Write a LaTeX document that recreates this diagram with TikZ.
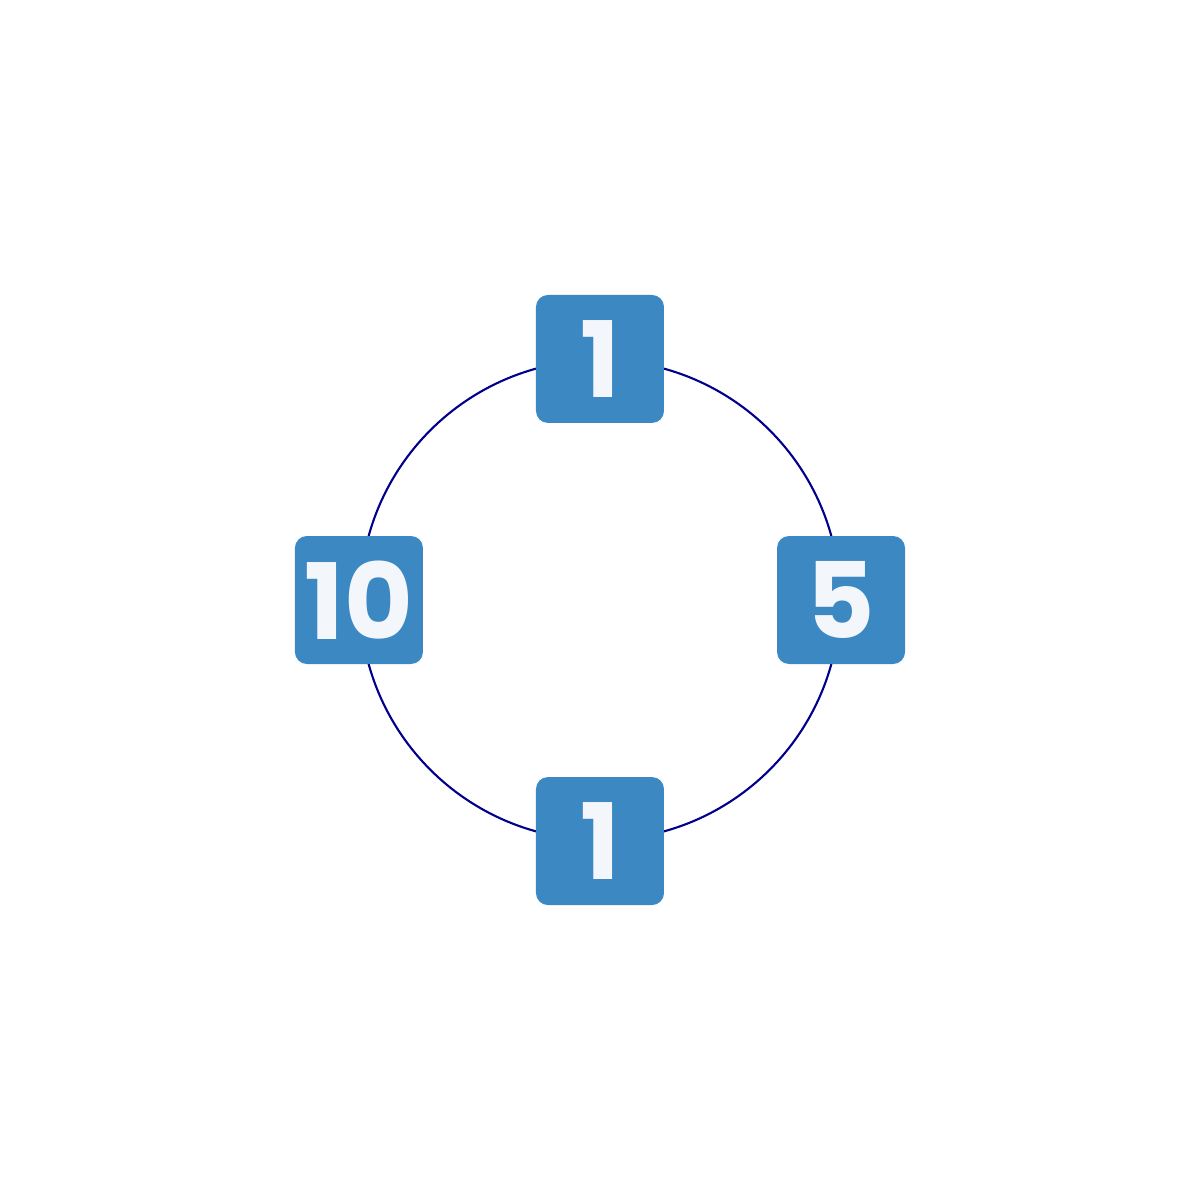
\documentclass[tikz,border=0pt]{standalone}
\usepackage{fontspec}
\setmainfont{Poppins}
\usepackage{xcolor}
\definecolor{tilefill}{HTML}{3C88C3}
\definecolor{tiletext}{HTML}{F3F7FB}
\definecolor{ring}{HTML}{00008B}
\usepackage{tikz}
\usetikzlibrary{positioning}

\begin{document}
\begin{tikzpicture}[
  tile/.style={
    rectangle, rounded corners=1.2mm, fill=tilefill, draw=none,
    minimum width=1.28cm, minimum height=1.28cm, inner sep=0pt,
    text=tiletext, font=\fontsize{30}{30}\selectfont\bfseries
  },
  ringline/.style={draw=ring, line width=0.6pt}
]
\useasboundingbox (-6,-6) rectangle (6,6);

% Ring
\node[circle, minimum size=4.8cm, inner sep=0pt, ringline] (ring) at (0,0) {};

% Tiles
\node[tile] (top) at (ring.north) {1};
\node[tile] (right) at (ring.east) {5};
\node[tile] (bottom) at (ring.south) {1};
\node[tile] (left) at (ring.west) {10};
\end{tikzpicture}
\end{document}
